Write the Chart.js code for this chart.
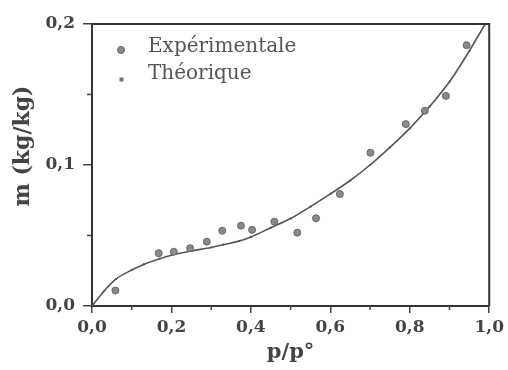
<!DOCTYPE html>
<html>
<head>
<meta charset="utf-8">
<script src="https://cdn.jsdelivr.net/npm/chart.js@4/dist/chart.umd.min.js"></script>
<style>
  html, body { margin: 0; padding: 0; background: #fff; }
  #wrap { width: 508px; height: 370px; }
</style>
</head>
<body>
<div id="wrap"><canvas id="c" width="508" height="370"></canvas></div>
<script>
// Relative pressure p/p° and moisture content m (kg/kg)
const pressureExp = [0.059, 0.168, 0.206, 0.247, 0.289, 0.328, 0.375, 0.403, 0.459, 0.517, 0.564, 0.624, 0.701, 0.790, 0.838, 0.891, 0.943];
const moistureExp = [0.011, 0.0375, 0.0385, 0.041, 0.0456, 0.0534, 0.057, 0.054, 0.0598, 0.052, 0.0622, 0.0794, 0.1087, 0.129, 0.1385, 0.149, 0.185];

const pressureTh = [0, 0.03, 0.06, 0.10, 0.13, 0.17, 0.20, 0.25, 0.30, 0.33, 0.37, 0.40, 0.45, 0.50, 0.55, 0.60, 0.65, 0.70, 0.75, 0.80, 0.85, 0.90, 0.95, 0.99];
const moistureTh = [0, 0.0105, 0.019, 0.0255, 0.0295, 0.0335, 0.036, 0.039, 0.0415, 0.0435, 0.046, 0.049, 0.0555, 0.062, 0.0705, 0.0795, 0.089, 0.100, 0.1125, 0.126, 0.1415, 0.159, 0.181, 0.200];

const seriesLabels = ['Expérimentale', 'Théorique'];
const xTitle = 'p/p°';
const yTitle = 'm (kg/kg)';
const xMinorTicks = [0.1, 0.3, 0.5, 0.7, 0.9];
const yMinorTicks = [0.05, 0.15];

const fmt = v => v.toFixed(1).replace('.', ',');
const tickFont = { family: 'DejaVu Serif', size: 17, weight: 'bold' };
const inkColor = '#444';

// Frame, minor ticks, in-plot legend and the vertical axis title
const extras = {
  id: 'extras',
  afterDraw(chart) {
    const { ctx, chartArea: a, scales: { x, y } } = chart;
    ctx.save();
    ctx.strokeStyle = '#333';
    ctx.lineWidth = 2;
    ctx.beginPath();
    ctx.moveTo(a.left, a.top);
    ctx.lineTo(a.right, a.top);
    ctx.lineTo(a.right, a.bottom);
    ctx.stroke();

    ctx.strokeStyle = inkColor;
    ctx.lineWidth = 1.5;
    ctx.beginPath();
    xMinorTicks.forEach(v => {
      const px = x.getPixelForValue(v);
      ctx.moveTo(px, a.bottom);
      ctx.lineTo(px, a.bottom + 4);
    });
    yMinorTicks.forEach(v => {
      const py = y.getPixelForValue(v);
      ctx.moveTo(a.left, py);
      ctx.lineTo(a.left - 5, py);
    });
    ctx.stroke();

    // legend
    const ds = chart.data.datasets;
    ctx.font = '20px "DejaVu Serif"';
    ctx.fillStyle = '#555';
    ctx.textBaseline = 'middle';
    ctx.fillText(ds[0].label, 148, 47);
    ctx.fillText(ds[1].label, 148, 74);
    ctx.fillStyle = '#8a8a8a';
    ctx.strokeStyle = '#666';
    ctx.lineWidth = 1;
    ctx.beginPath();
    ctx.arc(121, 50, 3.5, 0, Math.PI * 2);
    ctx.fill();
    ctx.stroke();
    ctx.fillStyle = '#777';
    ctx.fillRect(119.5, 77.5, 4, 4);

    // y title
    ctx.translate(23, 146);
    ctx.rotate(-Math.PI / 2);
    ctx.font = 'bold 22px "DejaVu Serif"';
    ctx.fillStyle = inkColor;
    ctx.textAlign = 'center';
    ctx.fillText(yTitle, 0, 0);
    ctx.restore();
  }
};

new Chart(document.getElementById('c'), {
  type: 'scatter',
  data: {
    datasets: [
      {
        label: seriesLabels[0],
        data: pressureExp.map((p, i) => ({ x: p, y: moistureExp[i] })),
        pointStyle: 'circle',
        pointRadius: 3.5,
        backgroundColor: '#8a8a8a',
        borderColor: '#666',
        borderWidth: 1,
        showLine: false,
        order: 1
      },
      {
        label: seriesLabels[1],
        data: pressureTh.map((p, i) => ({ x: p, y: moistureTh[i] })),
        showLine: true,
        cubicInterpolationMode: 'monotone',
        borderColor: '#555',
        borderWidth: 1.6,
        pointStyle: 'triangle',
        pointRadius: 1.6,
        backgroundColor: '#555',
        pointBorderWidth: 0,
        order: 2
      }
    ]
  },
  options: {
    responsive: false,
    animation: false,
    layout: { padding: { top: 24, right: 16, left: 0, bottom: 0 } },
    plugins: { legend: { display: false }, tooltip: { enabled: false } },
    scales: {
      x: {
        type: 'linear',
        min: 0, max: 1,
        afterFit: s => { s.height = 64; },
        border: { display: true, color: '#333', width: 2 },
        grid: { drawOnChartArea: false, drawTicks: true, tickLength: 7, color: inkColor, lineWidth: 1.5 },
        ticks: { stepSize: 0.2, padding: 4, color: inkColor, font: tickFont, maxRotation: 0, callback: v => fmt(v) },
        title: { display: true, text: xTitle, color: inkColor, font: { family: 'DejaVu Serif', size: 21, weight: 'bold' }, padding: { top: 0, bottom: 5 } }
      },
      y: {
        type: 'linear',
        min: 0, max: 0.2,
        afterFit: s => { s.width = 92; },
        border: { display: true, color: '#333', width: 2 },
        grid: { drawOnChartArea: false, drawTicks: true, tickLength: 9, color: inkColor, lineWidth: 1.5 },
        ticks: { stepSize: 0.1, padding: 8, color: inkColor, font: tickFont, callback: v => fmt(v) },
        title: { display: false }
      }
    }
  },
  plugins: [extras]
});
</script>
</body>
</html>
